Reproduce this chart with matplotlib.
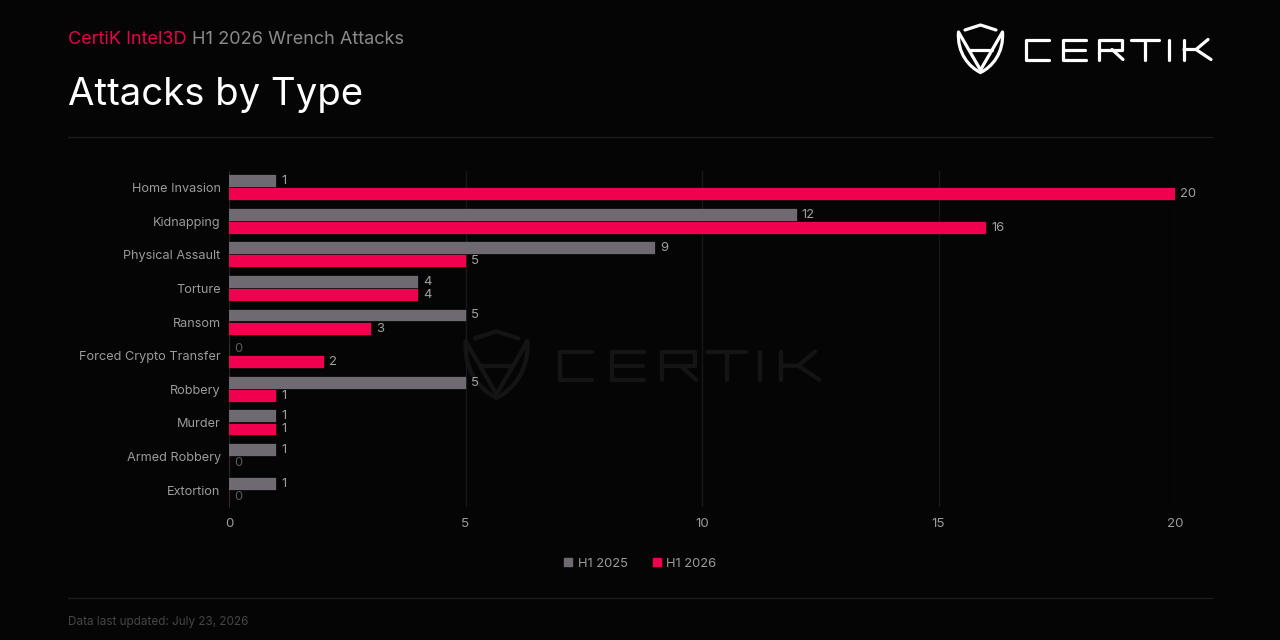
import matplotlib
matplotlib.use("Agg")
import matplotlib.pyplot as plt
from matplotlib.lines import Line2D
from matplotlib.path import Path
from matplotlib.patches import PathPatch

categories = ["Home Invasion", "Kidnapping", "Physical Assault", "Torture", "Ransom",
              "Forced Crypto Transfer", "Robbery", "Murder", "Armed Robbery", "Extortion"]
h1_2025 = [1, 12, 9, 4, 5, 0, 5, 1, 1, 1]
h1_2026 = [20, 16, 5, 4, 3, 2, 1, 1, 0, 0]
x_ticks = [0, 5, 10, 15, 20]

BG = "#050505"
GREY = "#6f6a72"
PINK = "#f0004f"
TXT = "#9b9b9b"
FONT = "Inter"
W, H = 1280, 640

plt.rcParams["font.family"] = [FONT, "DejaVu Sans"]
fig = plt.figure(figsize=(12.8, 6.4), dpi=100, facecolor=BG)

# overlay in pixel space for frame furniture
ov = fig.add_axes([0, 0, 1, 1], zorder=0)
ov.set_xlim(0, W); ov.set_ylim(H, 0); ov.axis("off")


def logo(ax, ox, oy, s, color, lw):
    """CertiK mark, drawn from a reference box of origin (958, 24)."""
    def P(pts):
        return [(ox + (x - 958) * s, oy + (y - 24) * s) for x, y in pts]
    def stroke(pts):
        xs, ys = zip(*P(pts))
        ax.add_line(Line2D(xs, ys, color=color, lw=lw, solid_capstyle="round", solid_joinstyle="round"))
    stroke([(965, 30), (980.5, 25), (996, 30)])
    verts = P([(958.5, 32), (957, 53), (969, 67), (980.5, 72.5), (992, 67), (1004, 53), (1002.5, 32)])
    codes = [Path.MOVETO, Path.CURVE4, Path.CURVE4, Path.CURVE4, Path.CURVE4, Path.CURVE4, Path.CURVE4]
    ax.add_patch(PathPatch(Path(verts, codes), fc="none", ec=color, lw=lw))
    stroke([(958.5, 32), (980.5, 70)])
    stroke([(1002.5, 32), (980.5, 70)])
    stroke([(969, 49.5), (992, 49.5)])
    t, b, m = 39.5, 59.5, 49.5
    stroke([(1049, t), (1026, t), (1026, b), (1049, b)])           # C
    stroke([(1086, t), (1063, t), (1063, b), (1086, b)])           # E
    stroke([(1063, m), (1085, m)])
    stroke([(1099, b), (1099, t), (1122, t), (1122, m), (1099, m)])  # R
    stroke([(1112, m), (1123, b)])
    stroke([(1131, t), (1159, t)])                                   # T
    stroke([(1145, t), (1145, b)])
    stroke([(1169, t), (1169, b)])                                   # I
    stroke([(1184, t), (1184, b)])                                   # K
    stroke([(1184, m), (1196, m), (1208, t)])
    stroke([(1196, m), (1211, b)])


logo(ov, 958, 24, 1.0, "#ffffff", 2.3)
logo(ov, 465, 330, 1.4, "#141414", 3.1)

ov.plot([68, 1212], [136.5, 136.5], color="#1c1c1c", lw=1)
ov.plot([68, 1212], [597.5, 597.5], color="#1c1c1c", lw=1)

t1 = ov.text(68, 40, "CertiK Intel3D", color="#e8004c", fontsize=13.05, va="center", ha="left")
fig.canvas.draw()
bb = t1.get_window_extent()
ov.text(bb.x1 + 5, 40, "H1 2026 Wrench Attacks", color="#8a8a8a", fontsize=13.05, va="center", ha="left")
ov.text(68, 95, "Attacks by Type", color="#ffffff", fontsize=27.6, va="center", ha="left")
ov.text(68, 622, "Data last updated: July 23, 2026", color="#464646", fontsize=8.45, va="center", ha="left")

# chart
left, right, top, bottom = 229, 1175, 170.7, 507
ax = fig.add_axes([left / W, 1 - bottom / H, (right - left) / W, (bottom - top) / H], zorder=1)
ax.patch.set_alpha(0)
ys = list(range(len(categories)))
h = 0.355
off = 0.195
ax.barh([y - off for y in ys], h1_2025, height=h, color=GREY, edgecolor=GREY, lw=0.2, joinstyle="round", zorder=3)
ax.barh([y + off for y in ys], h1_2026, height=h, color=PINK, edgecolor=PINK, lw=0.2, joinstyle="round", zorder=3)
ax.set_xlim(0, 20)
ax.set_ylim(len(categories) - 0.5, -0.5)
ax.set_yticks(ys, categories)
ax.set_xticks(x_ticks)
ax.tick_params(axis="y", length=0, pad=6, labelcolor=TXT, labelsize=9.15)
ax.tick_params(axis="x", length=0, pad=8, labelcolor=TXT, labelsize=9.6)
ax.grid(axis="x", color="#171717", lw=1, zorder=0)
ax.set_axisbelow(True)
for s in ["top", "right", "bottom"]:
    ax.spines[s].set_visible(False)
ax.spines["left"].set_color("#262626")

for y, v in zip(ys, h1_2025):
    ax.annotate(str(v), (v, y - off), xytext=(3.7, 0), textcoords="offset points", va="center",
                color="#a0a0a0" if v else "#5a5a5a", fontsize=9.4, clip_on=False, zorder=4)
for y, v in zip(ys, h1_2026):
    ax.annotate(str(v), (v, y + off), xytext=(3.7, 0), textcoords="offset points", va="center",
                color="#a0a0a0" if v else "#5a5a5a", fontsize=9.4, clip_on=False, zorder=4)

# legend
handles = [Line2D([], [], marker="s", ls="", ms=6.2, color=GREY, label="H1 2025"),
           Line2D([], [], marker="s", ls="", ms=6.2, color=PINK, label="H1 2026")]
leg = fig.legend(handles=handles, loc="center", bbox_to_anchor=(640 / W, 1 - 564 / H), ncol=2,
                 frameon=False, fontsize=9.3, handlelength=0.75, handletextpad=0.35, columnspacing=1.9, labelcolor="#9b9b9b")

fig.savefig("out.png", dpi=100, facecolor=BG)
